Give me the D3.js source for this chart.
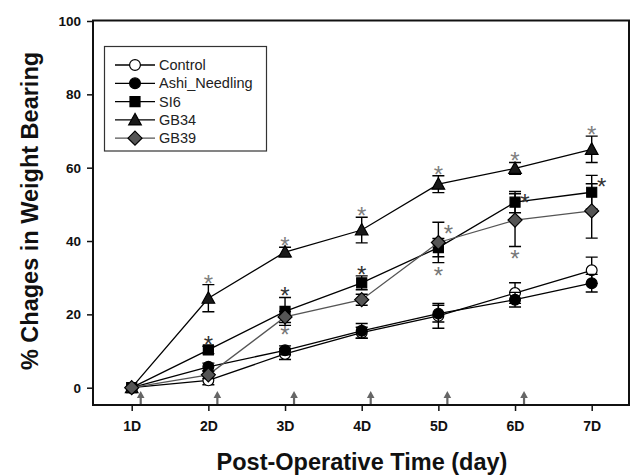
<!DOCTYPE html>
<html><head><meta charset="utf-8">
<script src="https://cdn.jsdelivr.net/npm/d3@7"></script>
<style>
html,body{margin:0;padding:0;background:#fff;}
svg{display:block;font-family:"Liberation Sans",Arial,sans-serif;}
</style></head>
<body>
<svg id="chart" width="631" height="476"></svg>
<script>
// ---- data ----
const dayLabels = ["1D","2D","3D","4D","5D","6D","7D"];
const days = [1,2,3,4,5,6,7];
const yTicks = [0,20,40,60,80,100];
const seriesNames = ["Control","Ashi_Needling","SI6","GB34","GB39"];
const controlVals = [0, 2.0, 9.2, 15.0, 19.6, 25.8, 32.0];
const controlErr  = [0, 1.2, 1.5, 1.5, 3.4, 2.8, 3.6];
const ashiVals    = [0, 5.7, 10.2, 15.5, 20.2, 24.0, 28.5];
const ashiErr     = [0, 1.0, 1.2, 2.0, 2.3, 2.0, 2.4];
const si6Vals     = [0, 10.3, 20.8, 28.6, 38.2, 50.6, 53.3];
const si6Err      = [0, 1.0, 3.8, 1.9, 2.5, 2.9, 4.6];
const gb34Vals    = [0, 24.4, 37.0, 43.0, 55.5, 59.8, 65.0];
const gb34Err     = [0, 3.7, 1.3, 3.5, 2.3, 1.6, 3.6];
const gb39Vals    = [0, 3.5, 19.3, 24.0, 39.6, 45.7, 48.2];
const gb39Err     = [0, 1.0, 1.5, 1.5, 5.5, 7.2, 7.4];
// significance marks: series index, day, placement
const starSeries = [3,3,3,3,3,3, 2,2,2, 2,2, 4,4, 4,4];
const starDays   = [2,3,4,5,6,7, 2,3,4, 6,7, 5,5, 3,6];
const starPlace  = ["above","above","above","above","above","above",
                    "above","above","above","right","right","right","below","below","below"];
const arrowDays = [1,2,3,4,5,6];

// ---- setup ----
const svg = d3.select("#chart");
const x = d3.scaleLinear().domain([1,7]).range([131.7,591.7]);
const y = d3.scaleLinear().domain([0,100]).range([387.7,21]);
const L = 93, T = 20.5, R = 629, B = 405;

const vals = [controlVals, ashiVals, si6Vals, gb34Vals, gb39Vals];
const errs = [controlErr, ashiErr, si6Err, gb34Err, gb39Err];
const styles = [
  {shape:"circle", fill:"#fff", line:"#000"},
  {shape:"circle", fill:"#000", line:"#000"},
  {shape:"square", fill:"#000", line:"#000"},
  {shape:"triangle", fill:"#1a1a1a", line:"#000"},
  {shape:"diamond", fill:"#555", line:"#555"}
];
const starColors = ["#808080","#808080","#333","#808080","#777"];

function markerPath(shape){
  switch(shape){
    case "circle": return d3.symbol(d3.symbolCircle, Math.PI*5.4*5.4)();
    case "square": return "M-5,-5H5V5H-5Z";
    case "triangle": return "M0,-6.5L6.3,5L-6.3,5Z";
    case "diamond": return "M0,-7L7,0L0,7L-7,0Z";
  }
}

// frame
svg.append("path").attr("d",`M${L},${T}H${R}V${B}H${L}Z`)
  .attr("fill","none").attr("stroke","#111").attr("stroke-width",2);

// y axis
const yAxis = svg.append("g").attr("transform",`translate(${L},0)`)
  .call(d3.axisLeft(y).tickValues(yTicks).tickSize(6).tickPadding(6).tickFormat(d3.format("d")));
yAxis.select(".domain").remove();
yAxis.selectAll("line").attr("stroke","#111").attr("stroke-width",1.5);
yAxis.selectAll("text").attr("font-size",13.5).attr("font-weight","bold").attr("fill","#111")
  .attr("font-family","Liberation Sans, Arial, sans-serif");

// x axis
const xAxis = svg.append("g").attr("transform",`translate(0,${B})`)
  .call(d3.axisBottom(x).tickValues(days).tickSize(6).tickPadding(10).tickFormat((d,i)=>dayLabels[i]));
xAxis.select(".domain").remove();
xAxis.selectAll("line").attr("stroke","#111").attr("stroke-width",1.5);
xAxis.selectAll("text").attr("font-size",14).attr("font-weight","bold").attr("fill","#111")
  .attr("font-family","Liberation Sans, Arial, sans-serif");

// arrows
const ag = svg.append("g");
arrowDays.forEach(d=>{
  const ax = x(d)+9;
  ag.append("line").attr("x1",ax).attr("x2",ax).attr("y1",397).attr("y2",B-1)
    .attr("stroke","#666").attr("stroke-width",2.2);
  ag.append("path").attr("d",`M${ax},391L${ax+3.8},398L${ax-3.8},398Z`).attr("fill","#666");
});

// series
const lineGen = d3.line().x((d,i)=>x(days[i])).y(d=>y(d));
vals.forEach((v,si)=>{
  const g = svg.append("g");
  const st = styles[si];
  g.append("path").attr("d",lineGen(v)).attr("fill","none")
    .attr("stroke",st.line).attr("stroke-width",1.3);
  v.forEach((val,i)=>{
    const e = errs[si][i];
    if(e>0){
      const cx = x(days[i]);
      g.append("path").attr("d",
        `M${cx},${y(val+e)}V${y(val-e)}M${cx-6},${y(val+e)}H${cx+6}M${cx-6},${y(val-e)}H${cx+6}`)
        .attr("stroke","#000").attr("stroke-width",1.4).attr("fill","none");
    }
  });
  v.forEach((val,i)=>{
    g.append("path").attr("d",markerPath(st.shape))
      .attr("transform",`translate(${x(days[i])},${y(val)})`)
      .attr("fill",st.fill).attr("stroke","#000").attr("stroke-width",1.2);
  });
});

// stars
const fs = 24;
starSeries.forEach((si,k)=>{
  const d = starDays[k], i = days.indexOf(d);
  const v = vals[si][i], e = errs[si][i];
  let cx = x(d), cy;
  if(starPlace[k]==="above"){ cy = y(v+e)-6.5; }
  else if(starPlace[k]==="below"){ cy = y(v-e)+7.5; }
  else { cx = cx+10; cy = y(v+e)+6; }
  svg.append("text").attr("x",cx).attr("y",cy+0.56*fs).attr("text-anchor","middle")
    .attr("font-size",fs).attr("fill",starColors[si]).text("*");
});

// legend
const lg = svg.append("g");
lg.append("rect").attr("x",104.5).attr("y",46.5).attr("width",162).attr("height",104.5)
  .attr("fill","#fff").attr("stroke","#333").attr("stroke-width",1.2);
seriesNames.forEach((name,si)=>{
  const ly = 65 + si*18.3;
  const st = styles[si];
  lg.append("line").attr("x1",115).attr("x2",155).attr("y1",ly).attr("y2",ly)
    .attr("stroke",st.line).attr("stroke-width",1.3);
  lg.append("path").attr("d",markerPath(st.shape)).attr("transform",`translate(135,${ly})`)
    .attr("fill",st.fill).attr("stroke","#000").attr("stroke-width",1.2);
  lg.append("text").attr("x",159).attr("y",ly+5).attr("font-size",14.5).attr("fill","#222").text(name);
});

// axis titles
svg.append("text").attr("x",362).attr("y",470).attr("text-anchor","middle")
  .attr("font-size",23.5).attr("font-weight","bold").attr("fill","#111").text("Post-Operative Time (day)");
svg.append("text").attr("transform","translate(38,211) rotate(-90)").attr("text-anchor","middle")
  .attr("font-size",23.5).attr("font-weight","bold").attr("fill","#111").text("% Chages in Weight Bearing");
</script>
</body></html>
